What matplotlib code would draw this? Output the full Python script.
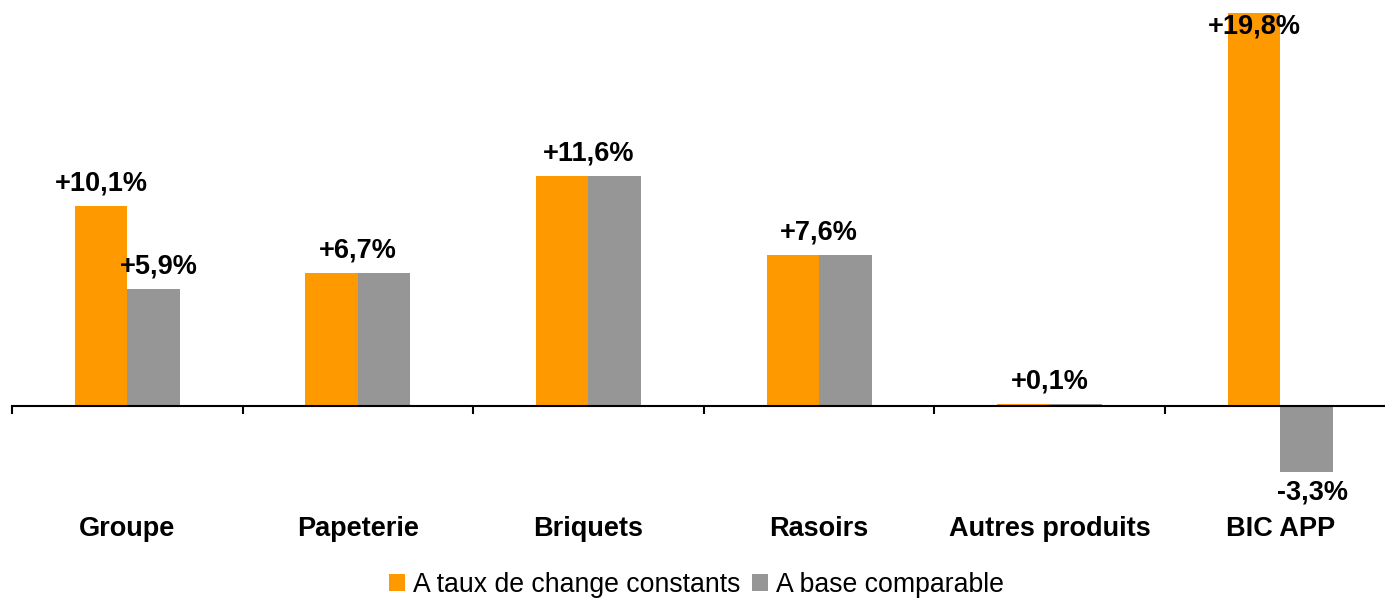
import matplotlib
matplotlib.use("Agg")
import matplotlib.pyplot as plt
from matplotlib.patches import Patch
import numpy as np

categories = ["Groupe", "Papeterie", "Briquets", "Rasoirs", "Autres produits", "BIC APP"]
taux_constants = [10.1, 6.7, 11.6, 7.6, 0.1, 19.8]
base_comparable = [5.9, 6.7, 11.6, 7.6, 0.1, -3.3]
series_names = ["A taux de change constants", "A base comparable"]

ORANGE = "#FF9900"
GREY = "#969696"

plt.rcParams['font.family'] = ['Liberation Sans', 'DejaVu Sans']

W, H = 1385, 598
fig = plt.figure(figsize=(W / 100, H / 100), dpi=100)

ylo, yhi = -5.0, 20.0
px_per_unit = 19.85
zero_px = 406
top_px = zero_px - yhi * px_per_unit
bot_px = zero_px - ylo * px_per_unit
cat_w = 230.6
left_px = 12
ax = fig.add_axes([left_px / W, 1 - bot_px / H, 6 * cat_w / W, (bot_px - top_px) / H])
ax.set_xlim(0, 6)
ax.set_ylim(ylo, yhi)

def fmt(v):
    return f"{v:+.1f}%".replace(".", ",")

x = np.arange(len(categories)) + 0.5
bw = 0.228
ax.bar(x - bw / 2, taux_constants, width=bw, color=ORANGE, zorder=2)
ax.bar(x + bw / 2, base_comparable, width=bw, color=GREY, zorder=2)

fs = 19.5
gap = 11  # points
cap = 18.0
for xi, a, b in zip(x, taux_constants, base_comparable):
    if a == b:
        ax.annotate(fmt(a), (xi, min(a, cap)), xytext=(0, gap), textcoords="offset points",
                    ha="center", va="baseline", fontsize=fs, fontweight="bold")
    else:
        for xx, v, dx in ((xi - bw / 2, a, 0), (xi + bw / 2, b, 4)):
            if v >= 0:
                ax.annotate(fmt(v), (xx, min(v, cap)), xytext=(dx, gap), textcoords="offset points",
                            ha="center", va="baseline", fontsize=fs, fontweight="bold")
            else:
                ax.annotate(fmt(v), (xx, v), xytext=(dx, -6), textcoords="offset points",
                            ha="center", va="top", fontsize=fs, fontweight="bold")

for s in ["top", "right", "left"]:
    ax.spines[s].set_visible(False)
ax.spines["bottom"].set_position(("data", 0))
ax.spines["bottom"].set_linewidth(1.5)
ax.spines["bottom"].set_zorder(3)
ax.set_yticks([])

ax.set_xticks(np.arange(0, 7))
ax.set_xticklabels([])
ax.tick_params(axis="x", which="major", direction="out", length=6, width=1.5)
ax.set_xticks(x, minor=True)
ax.set_xticklabels(categories, minor=True, fontsize=fs, fontweight="bold")
ax.tick_params(axis="x", which="minor", length=0, pad=79)

handles = [Patch(facecolor=ORANGE, edgecolor="none"), Patch(facecolor=GREY, edgecolor="none")]
fig.legend(handles, series_names, loc="center", bbox_to_anchor=(0.503, 1 - 585 / H), ncol=2,
           frameon=False, fontsize=19.2, handlelength=0.6, handleheight=0.6,
           handletextpad=0.3, columnspacing=0.45, borderaxespad=0, borderpad=0)

fig.savefig("out.png", dpi=100)
